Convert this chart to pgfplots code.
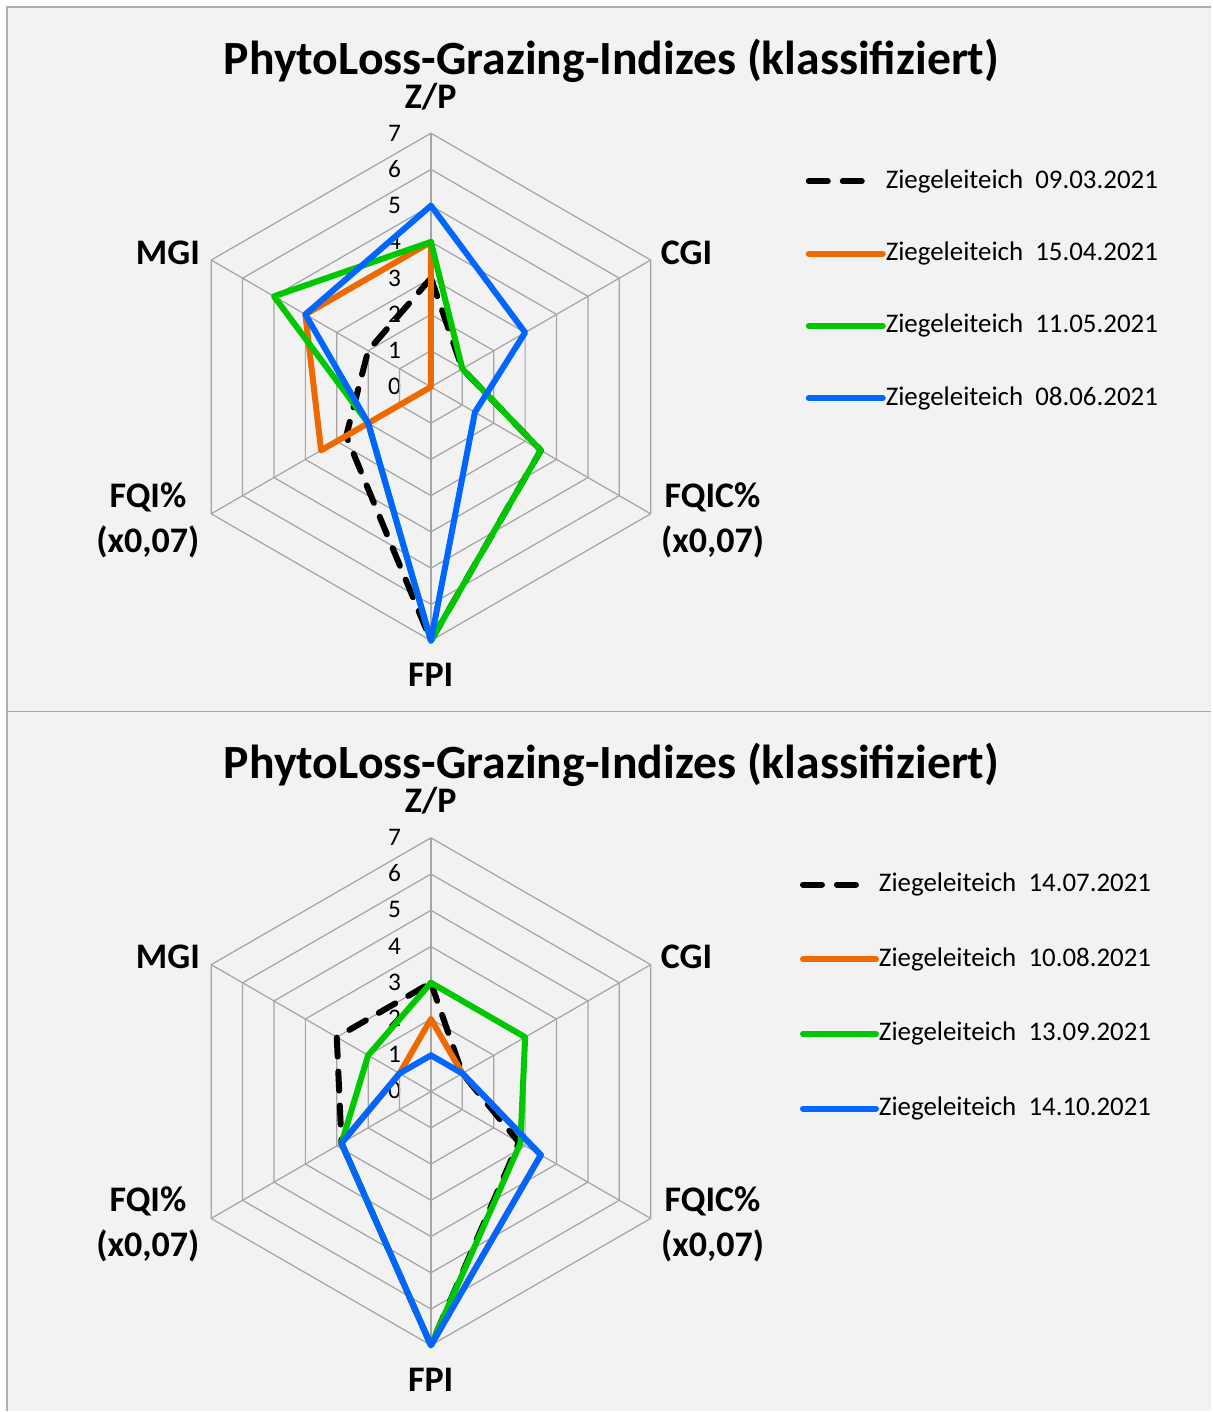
\documentclass[border=0pt]{standalone}
\usepackage{pgfplots}
\pgfplotsset{compat=1.18}
\usepgfplotslibrary{polar}
\usepackage{fontspec}
\setmainfont{Carlito}

\definecolor{bg}{RGB}{242,242,242}
\definecolor{gridgray}{RGB}{165,165,165}
\definecolor{framegray}{RGB}{175,175,175}
\definecolor{sOrange}{RGB}{238,106,0}
\definecolor{sGreen}{RGB}{0,200,0}
\definecolor{sBlue}{RGB}{0,102,255}

\pgfplotsset{
  radar/.style={
    x=0.3625cm, y=0.3625cm,
    xmin=-7, xmax=7, ymin=-7, ymax=7,
    hide axis, clip=false, anchor=origin,
    legend cell align=left,
    legend image code/.code={\draw[#1] (0cm,0cm) -- (0.74cm,0cm);},
  },
  ring/.style={forget plot, gridgray, line width=0.35pt, data cs=polar},
  series/.style={data cs=polar, line width=0.06cm, line join=round, line cap=round},
  dashser/.style={series, black, dash pattern=on 0.19cm off 0.15cm,
    legend image code/.code={\draw[##1] (0cm,0cm) -- (0.6cm,0cm);}},
}

% hexagon rings and spokes, angles: Z/P 90, CGI 30, FQIC% -30, FPI -90, FQI% 210, MGI 150
\newcommand\radargrid{%
  \addplot[ring] coordinates {(90,1) (30,1) (-30,1) (-90,1) (210,1) (150,1) (90,1)};
  \addplot[ring] coordinates {(90,2) (30,2) (-30,2) (-90,2) (210,2) (150,2) (90,2)};
  \addplot[ring] coordinates {(90,3) (30,3) (-30,3) (-90,3) (210,3) (150,3) (90,3)};
  \addplot[ring] coordinates {(90,4) (30,4) (-30,4) (-90,4) (210,4) (150,4) (90,4)};
  \addplot[ring] coordinates {(90,5) (30,5) (-30,5) (-90,5) (210,5) (150,5) (90,5)};
  \addplot[ring] coordinates {(90,6) (30,6) (-30,6) (-90,6) (210,6) (150,6) (90,6)};
  \addplot[ring] coordinates {(90,7) (30,7) (-30,7) (-90,7) (210,7) (150,7) (90,7)};
  \addplot[ring] coordinates {(90,0) (90,7)};
  \addplot[ring] coordinates {(30,0) (30,7)};
  \addplot[ring] coordinates {(-30,0) (-30,7)};
  \addplot[ring] coordinates {(-90,0) (-90,7)};
  \addplot[ring] coordinates {(210,0) (210,7)};
  \addplot[ring] coordinates {(150,0) (150,7)};
}

% labels around one radar, shifted down by #1 pixels
\newcommand\radarlabels[1]{%
  \begin{scope}[yshift=-#1*0.01cm]
    \node[anchor=base, font=\fontsize{13.57}{16}\selectfont\bfseries] at (612,74.5) {PhytoLoss-Grazing-Indizes (klassifiziert)};
    \begin{scope}[font=\fontsize{10.24}{12}\selectfont\bfseries]
      \node[anchor=base] at (431,108.5) {Z/P};
      \node[anchor=base] at (168,264.5) {MGI};
      \node[anchor=base] at (687,264.5) {CGI};
      \node[anchor=base] at (148,507.5) {FQI\%};
      \node[anchor=base] at (148,552.5) {(x0,07)};
      \node[anchor=base] at (713,507.5) {FQIC\%};
      \node[anchor=base] at (713,552.5) {(x0,07)};
      \node[anchor=base] at (431,687.5) {FPI};
    \end{scope}
    \foreach \r in {0,...,7}{
      \node[anchor=base east, inner sep=0pt, font=\fontsize{7.2}{9}\selectfont] at (402,395-36.25*\r) {\r};
    }
  \end{scope}
}

\begin{document}
\begin{tikzpicture}

\begin{scope}[x=0.01cm, y=-0.01cm, yshift=14.12cm]
  \fill[white] (0,0) rectangle (1212,1412);
  \fill[bg] (7,7) rectangle (1212,1412);
  \draw[framegray, line width=0.02cm] (7,1412) -- (7,7) -- (1212,7);
  \draw[gridgray, line width=0.015cm] (7,712) -- (1212,712);
  \radarlabels{0}
  \radarlabels{704.7}
\end{scope}

% upper chart
\begin{axis}[radar, at={(4.31cm,10.25cm)},
  legend style={at={(axis cs:10.34,6.03)}, anchor=north west, draw=none, fill=none,
    inner sep=0pt, outer sep=0pt, row sep=0.463cm, column sep=0cm,
    font=\fontsize{7.65}{9}\selectfont,
    nodes={inner sep=0pt, text height=0.2cm, text depth=0.06cm}},
]
\radargrid
\addplot[dashser] coordinates {(90,3) (30,1) (-30,3.5) (-90,7) (210,2.7) (150,2) (90,3)};
\addlegendentry{Ziegeleiteich~~09.03.2021}
\addplot[series, sOrange] coordinates {(90,4) (30,0) (-30,0) (-90,0) (210,3.5) (150,4) (90,4)};
\addlegendentry{Ziegeleiteich~~15.04.2021}
\addplot[series, sGreen] coordinates {(90,4) (30,1) (-30,3.5) (-90,7) (210,2) (150,5) (90,4)};
\addlegendentry{Ziegeleiteich~~11.05.2021}
\addplot[series, sBlue] coordinates {(90,5) (30,3) (-30,1.4) (-90,7) (210,2) (150,4) (90,5)};
\addlegendentry{Ziegeleiteich~~08.06.2021}
\end{axis}

% lower chart
\begin{axis}[radar, at={(4.31cm,3.203cm)},
  legend image code/.code={\draw[#1] (0cm,0cm) -- (0.73cm,0cm);},
  legend style={at={(axis cs:10.18,6.07)}, anchor=north west, draw=none, fill=none,
    inner sep=0pt, outer sep=0pt, row sep=0.487cm, column sep=0cm,
    font=\fontsize{7.65}{9}\selectfont,
    nodes={inner sep=0pt, text height=0.2cm, text depth=0.06cm}},
]
\radargrid
\addplot[dashser] coordinates {(90,3) (30,1) (-30,2.8) (-90,7) (210,2.85) (150,3) (90,3)};
\addlegendentry{Ziegeleiteich~~14.07.2021}
\addplot[series, sOrange] coordinates {(90,2) (30,1) (-30,3.5) (-90,7) (210,2.85) (150,1) (90,2)};
\addlegendentry{Ziegeleiteich~~10.08.2021}
\addplot[series, sGreen] coordinates {(90,3) (30,3) (-30,2.85) (-90,7) (210,2.85) (150,2) (90,3)};
\addlegendentry{Ziegeleiteich~~13.09.2021}
\addplot[series, sBlue] coordinates {(90,1) (30,1) (-30,3.5) (-90,7) (210,2.85) (150,1) (90,1)};
\addlegendentry{Ziegeleiteich~~14.10.2021}
\end{axis}

\end{tikzpicture}
\end{document}
